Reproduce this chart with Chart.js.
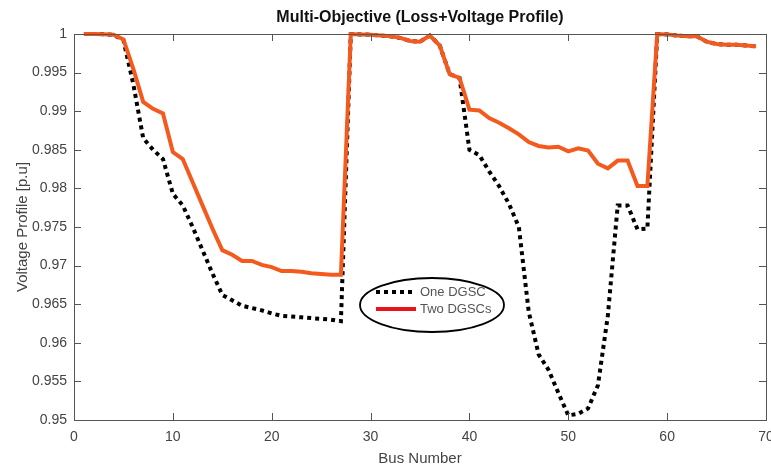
<!DOCTYPE html>
<html>
<head>
<meta charset="utf-8">
<script src="https://cdn.jsdelivr.net/npm/chart.js@4.4.1/dist/chart.umd.min.js"></script>
<style>
  html, body { margin: 0; padding: 0; background: #fff; }
  #wrap { width: 771px; height: 468px; }
</style>
</head>
<body>
<div id="wrap"><canvas id="perfil" width="771" height="468"></canvas></div>
<script>
// bus numbers (IEEE 69 bus)
const buses = [1,2,3,4,5,6,7,8,9,10,11,12,13,14,15,16,17,18,19,20,21,22,23,24,25,26,27,28,29,30,
  31,32,33,34,35,36,37,38,39,40,41,42,43,44,45,46,47,48,49,50,51,52,53,54,55,56,57,58,59,60,
  61,62,63,64,65,66,67,68,69];

// voltage with one DGSC
const oneDGSC = [1.0000,1.0000,0.99998,0.9999,0.9992,0.9935,0.9865,0.9850,0.9838,0.9793,
  0.9778,0.9750,0.9720,0.9690,0.9662,0.9655,0.9648,0.9645,0.9642,0.9638,
  0.9635,0.9634,0.9633,0.9632,0.9631,0.9630,0.9628,1.0000,0.99995,0.9999,
  0.9998,0.9997,0.9995,0.9991,0.9990,0.9998,0.9985,0.9948,0.9943,0.9850,
  0.9843,0.9822,0.9803,0.9780,0.9750,0.9640,0.9585,0.9565,0.9535,0.9506,
  0.9508,0.9515,0.9545,0.9635,0.9778,0.9778,0.9747,0.9748,1.0000,0.99995,
  0.9998,0.9997,0.9997,0.9990,0.9987,0.9986,0.9986,0.9985,0.9984];

// voltage with two DGSCs
const twoDGSC = [1.0000,1.0000,0.99998,0.9999,0.9993,0.9955,0.9912,0.9903,0.9897,0.9847,
  0.9838,0.9808,0.9778,0.9748,0.9720,0.9714,0.9706,0.9706,0.9701,0.9698,
  0.9693,0.9693,0.9692,0.9690,0.9689,0.9688,0.9688,1.0000,0.99995,0.9999,
  0.9998,0.9997,0.9995,0.9991,0.9990,0.9998,0.9985,0.9948,0.9943,0.9902,
  0.9901,0.9891,0.9885,0.9878,0.9870,0.9860,0.9855,0.9853,0.9854,0.9848,
  0.9852,0.9849,0.9832,0.9826,0.9836,0.9836,0.9803,0.9803,1.0000,0.99995,
  0.9998,0.9997,0.9997,0.9990,0.9987,0.9986,0.9986,0.9985,0.9984];

const xTicks = [0,10,20,30,40,50,60,70];
const yTicks = [0.95,0.955,0.96,0.965,0.97,0.975,0.98,0.985,0.99,0.995,1];

const fuente = "'Liberation Sans', Arial, sans-serif";
const gris = '#444';

function puntos(vals) {
  return buses.map((b, i) => ({ x: b, y: vals[i] }));
}

// caja estilo matlab con ticks hacia adentro + titulo + leyenda con elipse
const cajaPlugin = {
  id: 'caja',
  afterDraw(chart) {
    const ctx = chart.ctx;
    const a = chart.chartArea;
    const sx = chart.scales.x, sy = chart.scales.y;
    ctx.save();
    ctx.strokeStyle = '#555';
    ctx.lineWidth = 1;
    ctx.strokeRect(a.left + 0.5, a.top + 0.5, a.right - a.left, a.bottom - a.top);
    ctx.beginPath();
    xTicks.forEach(t => {
      const px = Math.round(sx.getPixelForValue(t)) + 0.5;
      ctx.moveTo(px, a.bottom); ctx.lineTo(px, a.bottom - 7);
      ctx.moveTo(px, a.top); ctx.lineTo(px, a.top + 7);
    });
    yTicks.forEach(t => {
      const py = Math.round(sy.getPixelForValue(t)) + 0.5;
      ctx.moveTo(a.left, py); ctx.lineTo(a.left + 7, py);
      ctx.moveTo(a.right, py); ctx.lineTo(a.right - 7, py);
    });
    ctx.stroke();

    // titulo
    ctx.fillStyle = '#111';
    ctx.font = 'bold 16px ' + fuente;
    ctx.textAlign = 'center';
    ctx.textBaseline = 'middle';
    ctx.fillText('Multi-Objective (Loss+Voltage Profile)', (a.left + a.right) / 2, 18);

    // leyenda
    const cx = 432, cy = 305;
    ctx.beginPath();
    ctx.ellipse(cx, cy, 72, 27, 0, 0, Math.PI * 2);
    ctx.strokeStyle = '#000';
    ctx.lineWidth = 1.8;
    ctx.stroke();

    ctx.lineWidth = 4;
    ctx.strokeStyle = '#000';
    ctx.setLineDash([4, 4]);
    ctx.beginPath();
    ctx.moveTo(376, 292); ctx.lineTo(416, 292);
    ctx.stroke();
    ctx.setLineDash([]);
    ctx.strokeStyle = '#e8141b';
    ctx.beginPath();
    ctx.moveTo(376, 309); ctx.lineTo(416, 309);
    ctx.stroke();

    ctx.fillStyle = '#555';
    ctx.font = '13px ' + fuente;
    ctx.textAlign = 'left';
    ctx.fillText('One DGSC', 420, 292);
    ctx.fillText('Two DGSCs', 420, 309);
    ctx.restore();
  }
};

const grafica = document.getElementById('perfil');
const miGrafica = new Chart(grafica, {
  type: 'line',
  data: {
    datasets: [{
      label: 'One DGSC',
      data: puntos(oneDGSC),
      borderColor: '#000',
      borderWidth: 4,
      borderDash: [4, 4],
      borderCapStyle: 'butt',
      pointRadius: 0,
      tension: 0,
      clip: 6,
      order: 1
    }, {
      label: 'Two DGSCs',
      data: puntos(twoDGSC),
      borderColor: '#f45a1d',
      borderWidth: 4,
      pointRadius: 0,
      tension: 0,
      clip: 6,
      order: 0
    }]
  },
  options: {
    responsive: false,
    animation: false,
    devicePixelRatio: 1,
    layout: { padding: { top: 34, right: 5, left: 0, bottom: 0 } },
    plugins: {
      legend: { display: false },
      tooltip: { enabled: false }
    },
    scales: {
      x: {
        type: 'linear',
        min: 0, max: 70,
        afterBuildTicks: s => { s.ticks = xTicks.map(v => ({ value: v })); },
        afterFit: s => { s.height = 48; s.paddingLeft = 0; s.paddingRight = 0; },
        grid: { display: false, drawTicks: false },
        border: { display: false },
        ticks: { color: gris, font: { family: fuente, size: 14 }, padding: 9, maxRotation: 0 },
        title: { display: true, text: 'Bus Number', color: gris, font: { family: fuente, size: 15 }, padding: { top: 0, bottom: 0 } }
      },
      y: {
        min: 0.95, max: 1,
        afterBuildTicks: s => { s.ticks = yTicks.map(v => ({ value: v })); },
        afterFit: s => { s.width = 74; s.paddingTop = 0; s.paddingBottom = 0; },
        grid: { display: false, drawTicks: false },
        border: { display: false },
        ticks: {
          color: gris, font: { family: fuente, size: 14 }, padding: 7,
          callback: v => String(parseFloat(v.toFixed(3)))
        },
        title: { display: true, text: 'Voltage Profile [p.u]', color: gris, font: { family: fuente, size: 15 }, padding: { top: 14, bottom: 0 } }
      }
    }
  },
  plugins: [cajaPlugin]
});
</script>
</body>
</html>
